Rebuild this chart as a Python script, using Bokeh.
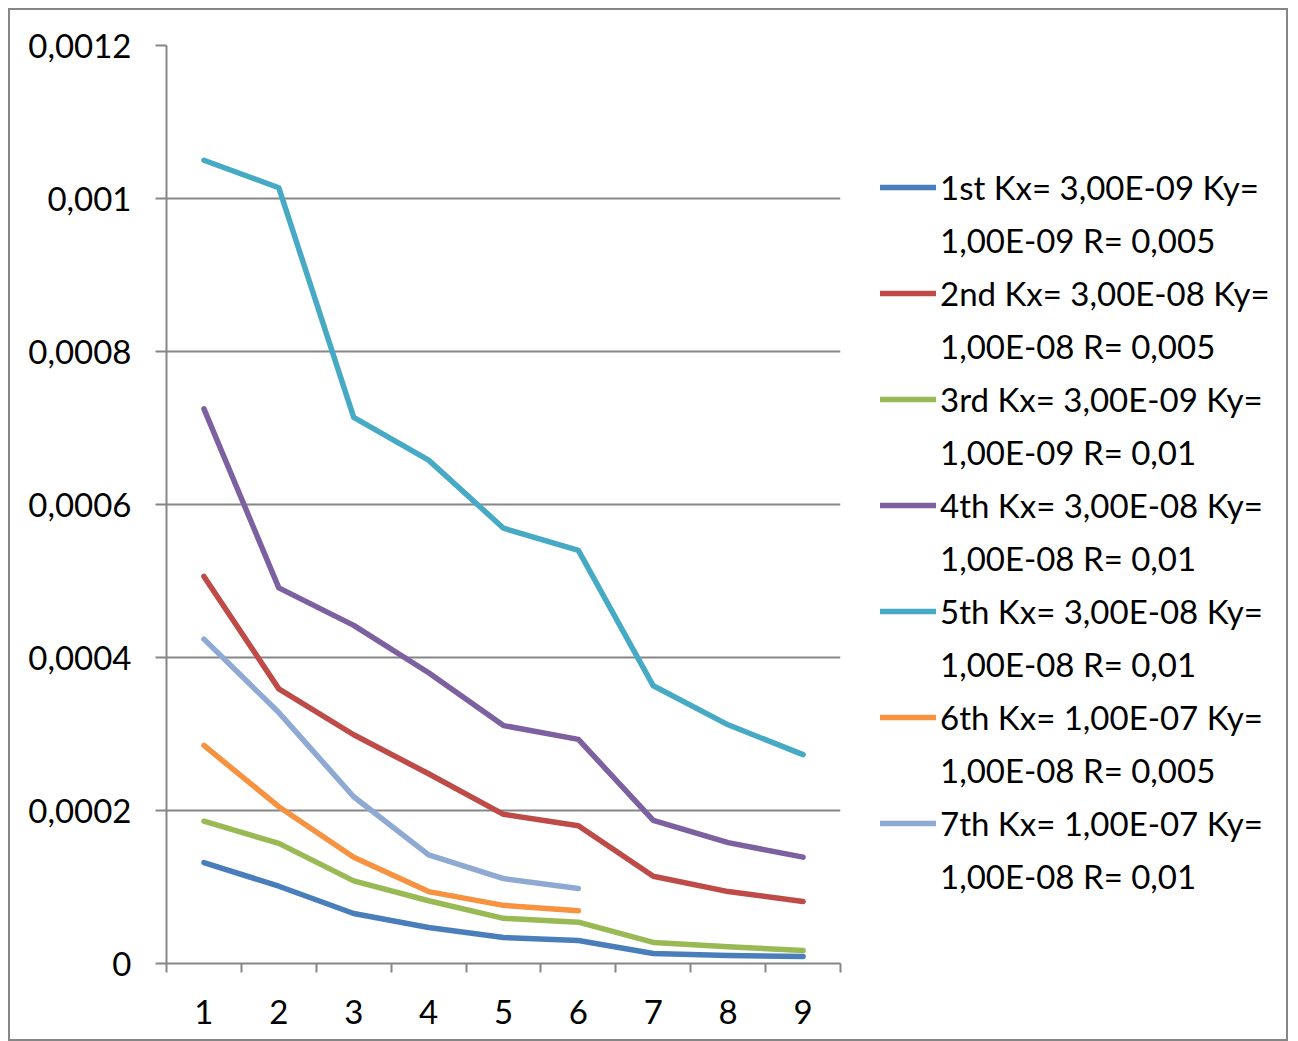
from bokeh.plotting import figure
from bokeh.models import Legend, LegendItem, FixedTicker, Range1d
from bokeh.embed import file_html
from bokeh.resources import INLINE

categories = [1, 2, 3, 4, 5, 6, 7, 8, 9]
s1 = [0.000132, 0.000101, 0.0000654, 0.000047, 0.000034, 0.000030, 0.000013, 0.0000105, 0.0000092]
s2 = [0.000506, 0.000359, 0.000299, 0.000248, 0.000195, 0.000180, 0.000114, 0.000094, 0.000081]
s3 = [0.000186, 0.000157, 0.000108, 0.000082, 0.000059, 0.000054, 0.0000275, 0.000022, 0.000017]
s4 = [0.000725, 0.000491, 0.000442, 0.000380, 0.000311, 0.000293, 0.000187, 0.000158, 0.000139]
s5 = [0.00105, 0.001014, 0.000714, 0.000658, 0.000569, 0.000540, 0.000363, 0.000312, 0.000273]
s6 = [0.000285, 0.000205, 0.000139, 0.000094, 0.000076, 0.000069]
s7 = [0.000424, 0.000328, 0.000218, 0.000142, 0.000111, 0.000098]

# legend text, first and second line of each entry
series_line1 = [
    "1st Kx= 3,00E-09 Ky=",
    "2nd Kx= 3,00E-08 Ky=",
    "3rd Kx= 3,00E-09 Ky=",
    "4th Kx= 3,00E-08 Ky=",
    "5th Kx= 3,00E-08 Ky=",
    "6th Kx= 1,00E-07 Ky=",
    "7th Kx= 1,00E-07 Ky=",
]
series_line2 = [
    "1,00E-09 R= 0,005",
    "1,00E-08 R= 0,005",
    "1,00E-09 R= 0,01",
    "1,00E-08 R= 0,01",
    "1,00E-08 R= 0,01",
    "1,00E-08 R= 0,005",
    "1,00E-08 R= 0,01",
]
colors = ["#4A7EBB", "#BE4B48", "#98B954", "#7D60A0", "#46AAC5", "#F69240", "#8EA9D2"]

y_ticks = [0, 0.0002, 0.0004, 0.0006, 0.0008, 0.001, 0.0012]
y_tick_labels = ["0", "0,0002", "0,0004", "0,0006", "0,0008", "0,001", "0,0012"]

FONT = "Lato"
FS = "33px"
GRAY = "#868686"

p = figure(frame_width=674, frame_height=918, output_backend="svg", toolbar_location=None,
           min_border_left=156, min_border_top=35, min_border_right=0, min_border_bottom=76,
           x_range=Range1d(0.5, 9.5), y_range=Range1d(0, 0.0012))
p.outline_line_color = None
p.background_fill_color = "white"
p.border_fill_color = "white"
p.styles = {"border": "2px solid #868686", "margin-left": "8px", "margin-top": "8px",
            "max-width": "1280px", "overflow": "hidden"}

# x axis
p.xaxis.ticker = FixedTicker(ticks=categories, minor_ticks=[c - 0.5 for c in categories] + [9.5])
p.xaxis.major_tick_out = 0
p.xaxis.major_tick_in = 0
p.xaxis.minor_tick_out = 9
p.xaxis.minor_tick_in = 0
p.xaxis.minor_tick_line_color = GRAY
p.xaxis.minor_tick_line_width = 2
p.xaxis.axis_line_color = GRAY
p.xaxis.axis_line_width = 2
p.xaxis.major_label_text_font = FONT
p.xaxis.major_label_text_font_size = FS
p.xaxis.major_label_text_color = "black"
p.xaxis.major_label_standoff = 27

# y axis
p.yaxis.ticker = FixedTicker(ticks=y_ticks)
p.yaxis.major_label_overrides = {t: l for t, l in zip(y_ticks, y_tick_labels)}
p.yaxis.major_tick_out = 11
p.yaxis.major_tick_in = 0
p.yaxis.minor_tick_out = 0
p.yaxis.minor_tick_in = 0
p.yaxis.major_tick_line_color = GRAY
p.yaxis.major_tick_line_width = 2
p.yaxis.axis_line_color = GRAY
p.yaxis.axis_line_width = 2
p.yaxis.major_label_text_font = FONT
p.yaxis.major_label_text_font_size = FS
p.yaxis.major_label_text_color = "black"
p.yaxis.major_label_standoff = 24

p.xgrid.grid_line_color = None
p.ygrid.ticker = FixedTicker(ticks=y_ticks)
p.ygrid.grid_line_color = GRAY
p.ygrid.grid_line_width = 2

all_series = [s1, s2, s3, s4, s5, s6, s7]
items = []
for vals, l1, l2, col in zip(all_series, series_line1, series_line2, colors):
    xs = categories[:len(vals)]
    r = p.line(xs, vals, line_color=col, line_width=5.5,
               line_cap="round", line_join="round")
    # invisible twin renderer so the second text line has no legend glyph
    ghost = p.line(xs, vals, line_color=col, line_alpha=0, line_width=5)
    items.append(LegendItem(label=l1, renderers=[r]))
    items.append(LegendItem(label=l2, renderers=[ghost]))

legend = Legend(items=items, location=(40, 67))
legend.label_text_font = FONT
legend.label_text_font_size = FS
legend.label_standoff = 4
legend.glyph_width = 56
legend.glyph_height = 30
legend.spacing = 13
legend.padding = 0
legend.margin = 0
legend.border_line_color = None
legend.background_fill_alpha = 0
legend.label_text_color = "black"
p.add_layout(legend, "right")

open("out.html", "w").write(file_html(p, INLINE))
